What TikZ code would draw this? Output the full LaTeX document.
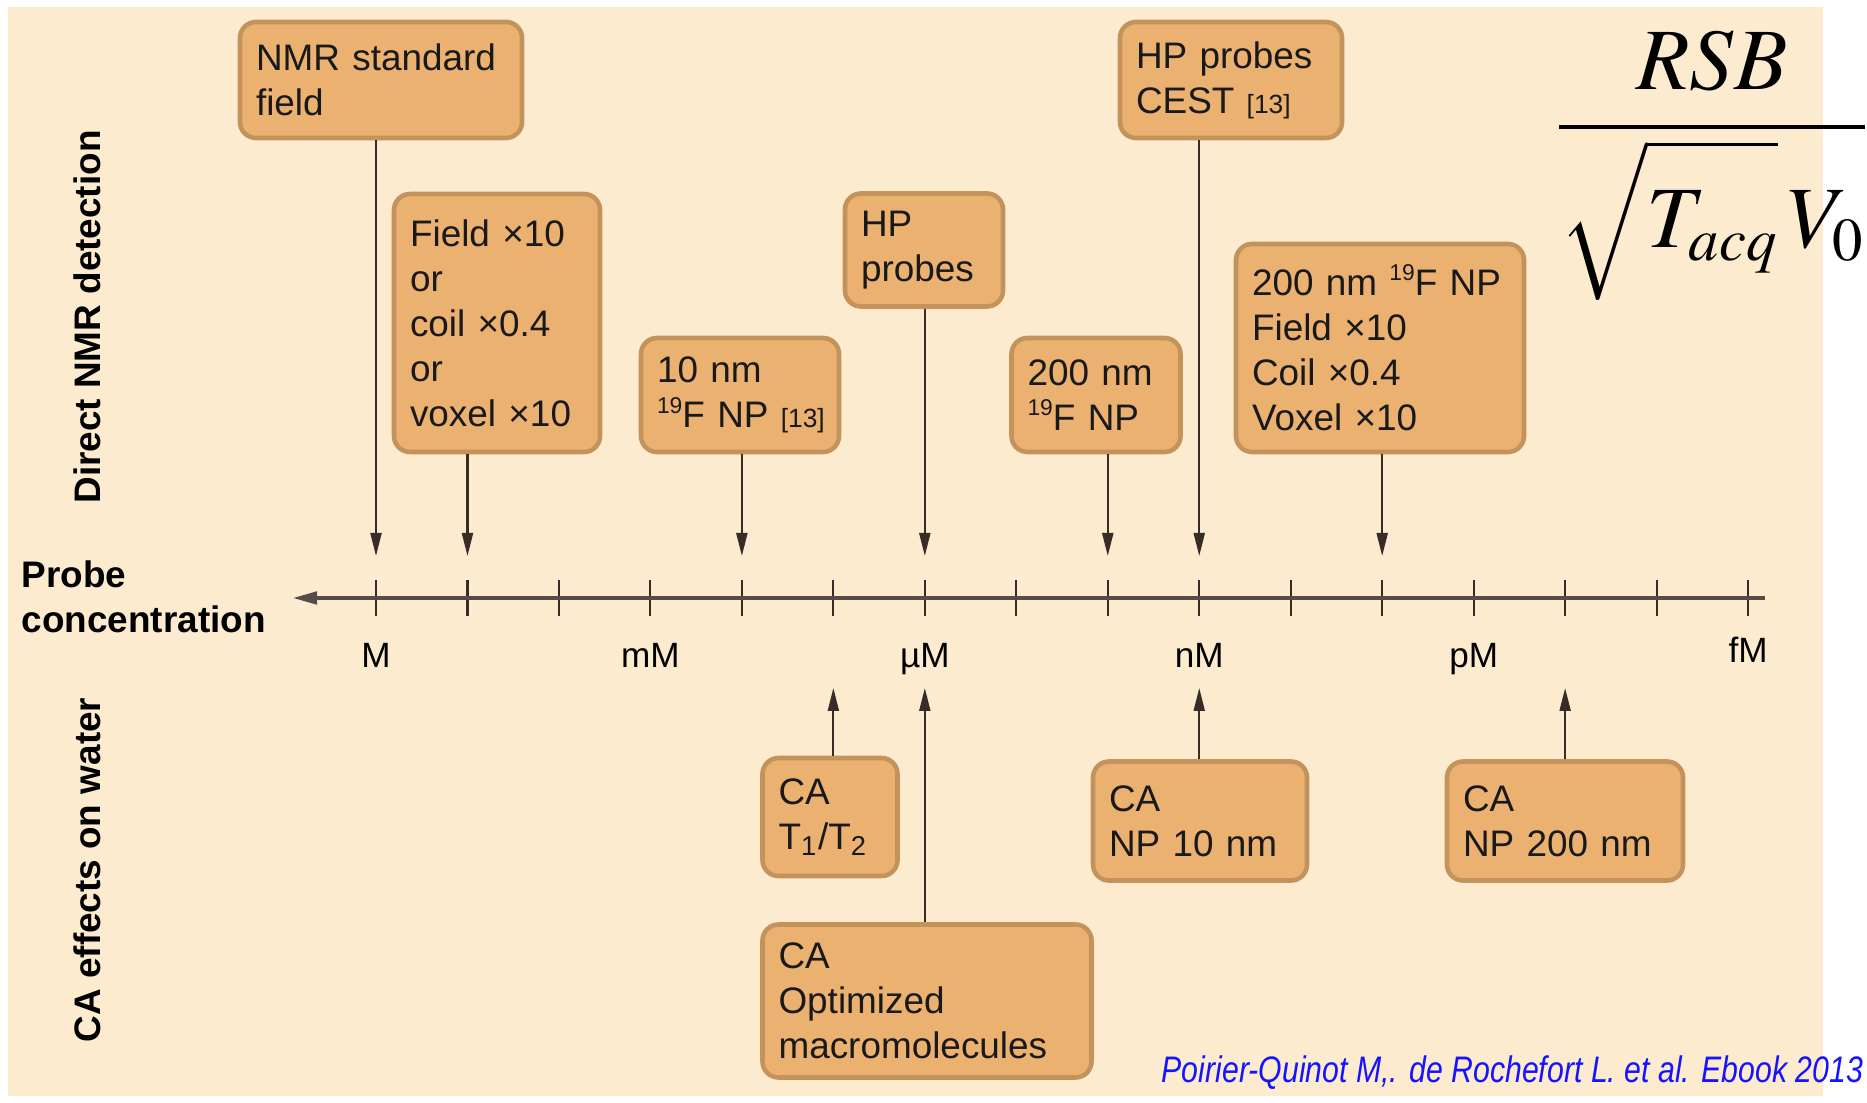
\documentclass[tikz,border=0pt]{standalone}
\usepackage{mathptmx}
\usepackage[no-math]{fontspec}
\setmainfont{Liberation Sans}
\newfontfamily\citefont[FakeStretch=0.82]{Liberation Sans}
\usetikzlibrary{arrows.meta}

\definecolor{cream}{RGB}{253,235,207}
\definecolor{boxfill}{RGB}{235,177,112}
\definecolor{boxedge}{RGB}{196,147,92}
\definecolor{inkdark}{RGB}{55,45,38}
\definecolor{citeblue}{RGB}{20,20,255}

\newcommand{\isotop}[1]{\raisebox{0.75ex}{\fontsize{6.5}{7}\selectfont #1}}
\newcommand{\refnum}[1]{{\fontsize{7.5}{9}\selectfont #1}}

\begin{document}
\begin{tikzpicture}[
        x=0.1mm, y=-0.1mm,
        probe_box/.style={draw=boxedge, fill=boxfill, line width=1.3pt, rounded corners=1.6mm, align=left, inner xsep=1.6mm, inner ysep=0pt, font=\fontsize{10.5}{12.8}\selectfont, text=black!90},
        arrow/.style={-{Triangle[length=2.3mm, width=1.1mm]}, line width=0.6pt, draw=inkdark},
        axis_line/.style={-{Triangle[length=2.5mm, width=1.2mm]}, line width=1.3pt, draw=inkdark!85},
        tick_mark/.style={line width=0.6pt, draw=inkdark},
        axis_label/.style={font=\fontsize{10}{12}\selectfont, anchor=base, inner sep=0pt},
        side_text/.style={font=\fontsize{10.5}{12.8}\selectfont\bfseries, align=left, inner sep=0pt}
    ]
        \useasboundingbox (0,0) rectangle (1867,1103);
        \fill[white] (0,0) rectangle (1867,1103);
        \fill[cream] (8,7) rectangle (1823,1096);

        % Concentration axis
        \coordinate (down) at (0,556);
        \coordinate (up) at (0,688);
        \foreach \i in {0,...,15} {
            \coordinate (t\i) at ({376+91.47*\i},598);
            \draw [tick_mark] ([yshift=-1.8mm]t\i) -- ([yshift=1.8mm]t\i);
        }
        \coordinate (axis_end) at (1765,598);
        \coordinate (axis_tip) at (292,598);
        \draw [axis_line] (axis_end) -- (axis_tip);

        \node (lab_m) at (t0 |- 0,668) [axis_label] {M};
        \node (lab_mm) at (t3 |- 0,668) [axis_label] {mM};
        \node (lab_um) at (t6 |- 0,668) [axis_label] {µM};
        \node (lab_nm) at (t9 |- 0,668) [axis_label] {nM};
        \node (lab_pm) at (t12 |- 0,668) [axis_label] {pM};
        \node (lab_fm) at (t15 |- 0,663) [axis_label] {fM};

        \node (probe) at (21,597) [anchor=west, side_text] {Probe\\concentration};
        \node (direct) at (87,317) [rotate=90, side_text] {Direct NMR detection};
        \node (water) at (87,870) [rotate=90, side_text] {CA effects on water};

        % Direct NMR detection
        \node (nmr) at (381,80) [probe_box, text width=25mm, minimum height=11.6mm] {NMR standard\\field};
        \node (field) at (497,323) [probe_box, text width=17.4mm, minimum height=25.8mm] {Field ×10\\or\\coil ×0.4\\or\\voxel ×10};
        \node (tennm) at (740,395) [probe_box, text width=16.6mm, minimum height=11.4mm] {10 nm\\\isotop{19}F~NP~\refnum{[13]}};
        \node (hp) at (924,250) [probe_box, text width=12.6mm, minimum height=11.3mm] {HP\\probes};
        \node (twohnm) at (1096,395) [probe_box, text width=13.7mm, minimum height=11.4mm] {200 nm\\\isotop{19}F NP};
        \node (cest) at (1231,80) [probe_box, text width=19mm, minimum height=11.6mm] {HP probes\\CEST \refnum{[13]}};
        \node (big) at (1380,348) [probe_box, text width=25.6mm, minimum height=20.8mm] {200 nm \isotop{19}F~NP\\Field ×10\\Coil ×0.4\\Voxel ×10};

        % CA effects on water
        \node (cat) at (830,817) [probe_box, text width=10.3mm, minimum height=11.8mm] {CA\\T\textsubscript{1}/T\textsubscript{2}};
        \node (caopt) at (927,1001) [probe_box, text width=29.7mm, minimum height=15.3mm] {CA\\Optimized\\macromolecules};
        \node (canp10) at (1200,821) [probe_box, text width=18.2mm, minimum height=11.9mm] {CA\\NP 10 nm};
        \node (canp200) at (1565,821) [probe_box, text width=20.4mm, minimum height=11.9mm] {CA\\NP 200 nm};

        % Connections
        \draw [arrow] (nmr.south -| t0) -- (t0 |- down);
        \draw [arrow] (field.south -| t1) -- (t1 |- down);
        \draw [arrow] (tennm.south -| t4) -- (t4 |- down);
        \draw [arrow] (hp.south -| t6) -- (t6 |- down);
        \draw [arrow] (twohnm.south -| t8) -- (t8 |- down);
        \draw [arrow] (cest.south -| t9) -- (t9 |- down);
        \draw [arrow] (big.south -| t11) -- (t11 |- down);

        \draw [arrow] (cat.north -| t5) -- (t5 |- up);
        \draw [arrow] (caopt.north -| t6) -- (t6 |- up);
        \draw [arrow] (canp10.north -| t9) -- (t9 |- up);
        \draw [arrow] (canp200.north -| t13) -- (t13 |- up);

        % Formula and source
        \node (formula) at (1712,149) [anchor=base, inner sep=0pt] {\fontsize{24.88}{30}\selectfont$\displaystyle\frac{RSB}{\sqrt{\vphantom{\big|}T_{acq}}\,V_0}$};
        \node (source) at (1161,1082) [anchor=base west, inner sep=0pt, text=citeblue, font=\fontsize{10.5}{12.8}\selectfont\citefont\itshape] {Poirier-Quinot M,. de Rochefort L. et al. Ebook 2013};
    \end{tikzpicture}
\end{document}
